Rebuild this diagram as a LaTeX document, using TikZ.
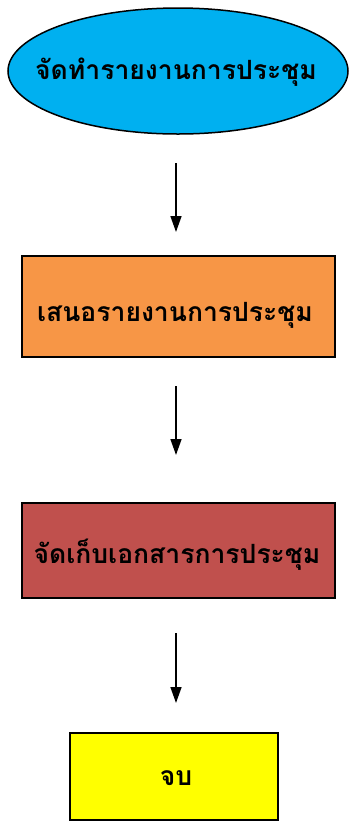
\documentclass[tikz,border=0pt]{standalone}
\usepackage{fontspec}
\setmainfont[Script=Thai]{Loma}
\usetikzlibrary{arrows.meta,shapes.geometric}
\definecolor{cyanfill}{HTML}{00B0F0}
\definecolor{orangefill}{HTML}{F79646}
\definecolor{redfill}{HTML}{C0504D}
\definecolor{yellowfill}{HTML}{FFFF00}
\tikzset{
  shapebox/.style={draw=black, line width=1.5pt, inner sep=0pt},
  thaitext/.style={font=\bfseries\fontsize{26.5}{30}\selectfont, inner sep=0pt},
  flowarrow/.style={draw=black, line width=1.5pt, -{Triangle[length=16pt,width=11pt]}}
}
\begin{document}
\begin{tikzpicture}[x=1pt,y=-1pt]
\useasboundingbox (0,0) rectangle (350,823);
\node[shapebox, ellipse, fill=cyanfill, minimum width=340pt, minimum height=126pt] (e) at (178,71) {};
\node[thaitext] (et) at (176,72) {จัดทำรายงานการประชุม};
\node[shapebox, rectangle, fill=orangefill, minimum width=313pt, minimum height=101pt] (o) at (178.5,306.5) {};
\node[thaitext] (ot) at (175,315) {เสนอรายงานการประชุม};
\node[shapebox, rectangle, fill=redfill, minimum width=313pt, minimum height=95pt] (r) at (178.5,550.5) {};
\node[thaitext] (rt) at (177,555) {จัดเก็บเอกสารการประชุม};
\node[shapebox, rectangle, fill=yellowfill, minimum width=208pt, minimum height=87pt] (y) at (174,776.5) {};
\node[thaitext] (yt) at (176,778) {จบ};
\coordinate (a1s) at (176,163); \coordinate (a1e) at (176,232);
\coordinate (a2s) at (176,386); \coordinate (a2e) at (176,455);
\coordinate (a3s) at (176,633); \coordinate (a3e) at (176,703);
\draw[flowarrow] (a1s) -- (a1e);
\draw[flowarrow] (a2s) -- (a2e);
\draw[flowarrow] (a3s) -- (a3e);
\end{tikzpicture}
\end{document}
